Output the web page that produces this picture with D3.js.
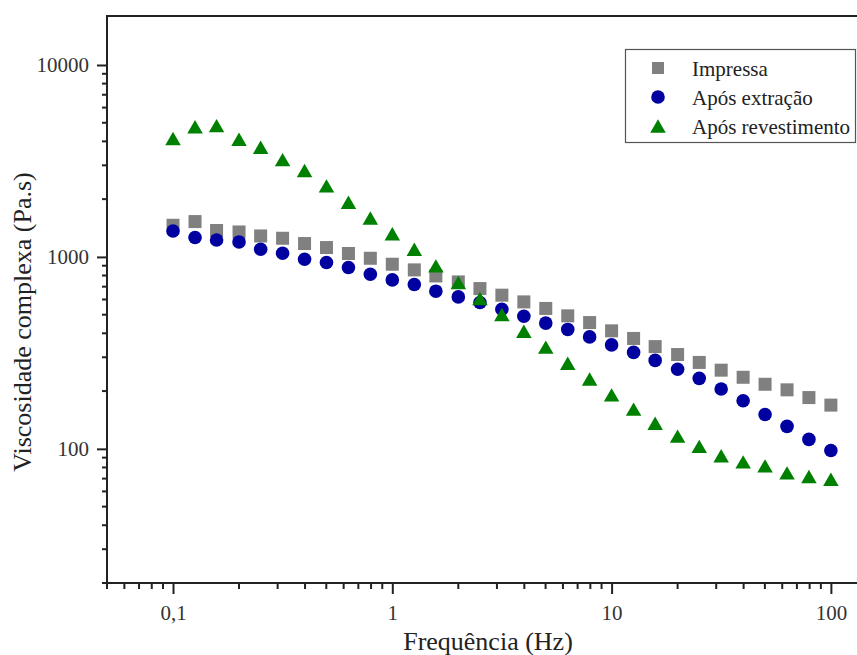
<!DOCTYPE html>
<html>
<head>
<meta charset="utf-8">
<script src="https://cdn.jsdelivr.net/npm/d3@7"></script>
<style>
html,body{margin:0;padding:0;background:#fff;}
svg{display:block;}
</style>
</head>
<body>
<svg id="chart" width="857" height="655"></svg>
<script>
// ---- data ----
const frequencies = [0.1,0.126,0.158,0.2,0.251,0.316,0.398,0.501,0.631,0.794,1,1.26,1.58,2,2.51,3.16,3.98,5.01,6.31,7.94,10,12.6,15.8,20,25.1,31.6,39.8,50.1,63.1,79.4,100];
const impressa = [1462,1528,1373,1349,1286,1251,1174,1119,1042,984,916,856,796,741,684,632,583,539,493,455,412,376,341,310,282,257,236,217,203,185,169];
const aposExtracao = [1365,1262,1226,1197,1097,1045,973,935,881,812,759,718,663,619,579,534,491,452,419,383,348,318,289,260,233,205,178,151,131,112,98];
const aposRevestimento = [4137,4765,4830,4100,3725,3215,2818,2344,1928,1596,1320,1097,898,736,607,501,410,339,279,231,191,161,136,116.5,103,92,85.5,81.5,75,71.8,69.5];
const seriesNames = ["Impressa","Após extração","Após revestimento"];
const xTickValues = [0.1,1,10,100];
const xTickLabels = ["0,1","1","10","100"];
const yTickValues = [100,1000,10000];
const yTickLabels = ["100","1000","10000"];
const xTitle = "Frequência (Hz)";
const yTitle = "Viscosidade complexa (Pa.s)";

(function(){
// ---- layout ----
const svg = d3.select("#chart");
const pL = 107, pR = 869.5, pT = 16, pB = 583;
const x = d3.scaleLog().domain([0.05,150]).range([pL,pR]);
const y = d3.scaleLog().domain([20,18000]).range([pB,pT]);
const font = "'Liberation Serif','Times New Roman',serif";
const axisColor = "#222";

function minorTicks(lo, hi){
  const out=[];
  for(let d=Math.floor(Math.log10(lo)); d<=Math.ceil(Math.log10(hi)); d++){
    for(let m=1;m<=9;m++){
      const v=m*Math.pow(10,d);
      if(v>=lo*0.999 && v<=hi*1.001) out.push(v);
    }
  }
  return out;
}
const xMinor = minorTicks(0.05,150).filter(v=>!xTickValues.some(t=>Math.abs(t-v)<1e-9));
const yMinor = minorTicks(20,18000).filter(v=>!yTickValues.some(t=>Math.abs(t-v)<1e-9));

// x axis
const gx = svg.append("g").attr("transform",`translate(0,${pB})`);
gx.call(d3.axisBottom(x).tickValues(xTickValues).tickFormat((d,i)=>xTickLabels[i]).tickSizeInner(11).tickSizeOuter(0).tickPadding(11));
gx.select(".domain").remove();
gx.selectAll(".tick line").attr("stroke",axisColor).attr("stroke-width",2);
gx.selectAll(".tick text").attr("font-family",font).attr("font-size",21).attr("fill","#333");
gx.selectAll(".minor").data(xMinor).enter().append("line")
  .attr("x1",d=>x(d)).attr("x2",d=>x(d)).attr("y1",0).attr("y2",6)
  .attr("stroke",axisColor).attr("stroke-width",2);

// y axis
const gy = svg.append("g").attr("transform",`translate(${pL},0)`);
gy.call(d3.axisLeft(y).tickValues(yTickValues).tickFormat((d,i)=>yTickLabels[i]).tickSizeInner(10).tickSizeOuter(0).tickPadding(8));
gy.select(".domain").remove();
gy.selectAll(".tick line").attr("stroke",axisColor).attr("stroke-width",2);
gy.selectAll(".tick text").attr("font-family",font).attr("font-size",21).attr("fill","#333");
gy.selectAll(".minor").data(yMinor).enter().append("line")
  .attr("x1",0).attr("x2",-5).attr("y1",d=>y(d)).attr("y2",d=>y(d))
  .attr("stroke",axisColor).attr("stroke-width",2);

// frame lines
svg.append("line").attr("x1",pL).attr("x2",pL).attr("y1",pT).attr("y2",pB+1).attr("stroke",axisColor).attr("stroke-width",2);
svg.append("line").attr("x1",pL-1).attr("x2",pR).attr("y1",pB).attr("y2",pB).attr("stroke",axisColor).attr("stroke-width",2);
svg.append("line").attr("x1",pL-1).attr("x2",pR).attr("y1",pT).attr("y2",pT).attr("stroke",axisColor).attr("stroke-width",2);

// axis titles
svg.append("text").attr("x",488).attr("y",650)
  .attr("text-anchor","middle").attr("font-family",font).attr("font-size",26).attr("fill","#222").text(xTitle);
svg.append("text").attr("transform","translate(31,322) rotate(-90)")
  .attr("text-anchor","middle").attr("font-family",font).attr("font-size",26).attr("fill","#222").text(yTitle);

// markers
const colors = ["#808080","#0000a0","#008000"];
const tw = 15.5, th = 13.4;
const triPath = `M0,${-th/2}L${tw/2},${th/2}L${-tw/2},${th/2}Z`;
const sq = 13;

const plot = svg.append("g");
plot.selectAll(".sq").data(frequencies.map((f,i)=>[f,impressa[i]])).enter().append("rect")
  .attr("x",d=>x(d[0])-sq/2).attr("y",d=>y(d[1])-sq/2).attr("width",sq).attr("height",sq)
  .attr("fill",colors[0]);
plot.selectAll(".ci").data(frequencies.map((f,i)=>[f,aposExtracao[i]])).enter().append("circle")
  .attr("cx",d=>x(d[0])).attr("cy",d=>y(d[1])).attr("r",6.8)
  .attr("fill",colors[1]);
plot.selectAll(".tr").data(frequencies.map((f,i)=>[f,aposRevestimento[i]])).enter().append("path")
  .attr("d",triPath).attr("transform",d=>`translate(${x(d[0])},${y(d[1])})`)
  .attr("fill",colors[2]);

// legend
const lg = svg.append("g");
lg.append("rect").attr("x",625.5).attr("y",49.5).attr("width",230).attr("height",93)
  .attr("fill","#fff").attr("stroke","#555").attr("stroke-width",1.2);
const rowsY = [68,97,126];
lg.append("rect").attr("x",658-6).attr("y",rowsY[0]-6).attr("width",12).attr("height",12).attr("fill",colors[0]);
lg.append("circle").attr("cx",658).attr("cy",rowsY[1]).attr("r",6.8).attr("fill",colors[1]);
lg.append("path").attr("d",triPath).attr("transform",`translate(658,${rowsY[2]})`).attr("fill",colors[2]);
seriesNames.forEach((n,i)=>{
  lg.append("text").attr("x",692).attr("y",rowsY[i]+7.5).attr("font-family",font).attr("font-size",21)
    .attr("fill","#222").text(n);
});
})();
</script>
</body>
</html>
